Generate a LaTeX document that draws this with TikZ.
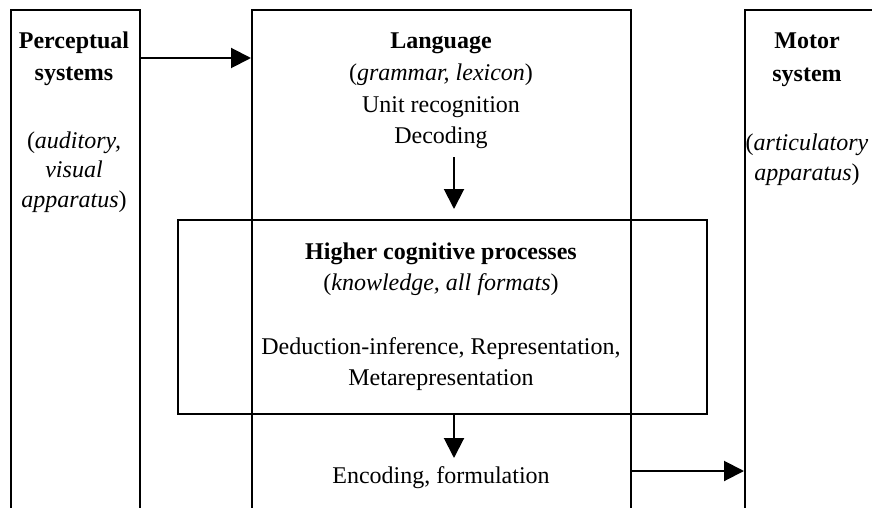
\documentclass[tikz,border=0pt]{standalone}
\usepackage{fontspec}
\setmainfont{Liberation Serif}
\usetikzlibrary{arrows.meta}
\begin{document}
\begin{tikzpicture}[x=1pt,y=-1pt,
  box/.style={draw,line width=2.2pt,rectangle,inner sep=0pt,anchor=north west},
  txt/.style={inner sep=0pt,align=center,font=\fontsize{24}{31}\selectfont},
  arr/.style={line width=2pt,-{Triangle[length=20pt,width=20pt]}}]
\clip (0,0) rectangle (872,508);
\fill[white] (0,0) rectangle (872,508);
% boxes (open at the bottom / right)
\node[box,minimum width=129pt,minimum height=530pt] (perc) at (9.5,9) {};
\node[box,minimum width=379pt,minimum height=530pt] (lang) at (251,9) {};
\node[box,minimum width=200pt,minimum height=530pt] (motor) at (744,9) {};
\node[box,minimum width=529pt,minimum height=194pt] (inner) at (177,219) {};
% texts
\node[txt,font=\fontsize{24}{32}\selectfont\bfseries] (pt1) at (74,59) {Perceptual\\systems};
\node[txt,font=\fontsize{24}{29.5}\selectfont] (pt2) at (74,172) {(\textit{auditory,}\\\textit{visual}\\\textit{apparatus})};
\node[txt,font=\fontsize{24}{31.7}\selectfont] (lt) at (441,91) {\textbf{Language}\\(\textit{grammar, lexicon})\\Unit recognition\\Decoding};
\node[txt,font=\fontsize{24}{33}\selectfont\bfseries] (mt1) at (807,60) {Motor\\system};
\node[txt,font=\fontsize{24}{30}\selectfont] (mt2) at (807,160) {(\textit{articulatory}\\\textit{apparatus})};
\node[txt] (ht1) at (441,269.5) {\textbf{Higher cognitive processes}\\(\textit{knowledge, all formats})};
\node[txt] (ht2) at (441,364.5) {Deduction-inference, Representation,\\Metarepresentation};
\node[txt] (enc) at (441,478) {Encoding, formulation};
% connectors
\coordinate (top1) at (454,157);
\coordinate (bot1) at (454,458);
\draw[arr] (perc.east |- 0,58) -- (lang.west |- 0,58);
\draw[arr] (top1) -- ([yshift=10pt]inner.north -| top1);
\draw[arr] (inner.south -| bot1) -- (bot1);
\draw[arr] (lang.east |- 0,471) -- (motor.west |- 0,471);
\end{tikzpicture}
\end{document}
